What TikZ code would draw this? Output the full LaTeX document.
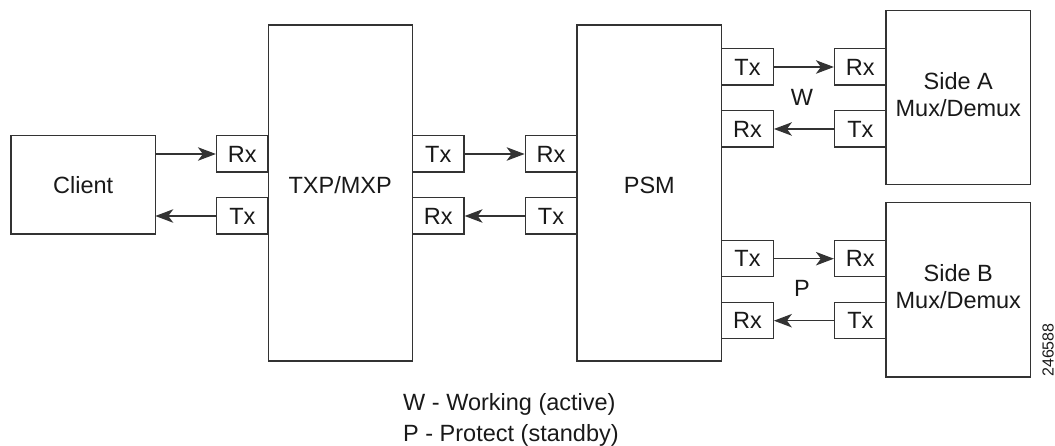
\documentclass[tikz,border=0pt]{standalone}
\usepackage{fontspec}
\setmainfont{Liberation Sans}
\usetikzlibrary{arrows.meta}
\begin{document}
\begin{tikzpicture}[x=1pt,y=-1pt,
  box/.style={draw=black!80,line width=1.3pt,fill=white},
  port/.style={draw=black!80,line width=1.3pt,fill=white,minimum width=51.5pt,minimum height=36.3pt},
  lbl/.style={font=\fontsize{23.5}{27}\selectfont,align=center,inner sep=0,text=black!90},
  conn/.style={draw=black!80,line width=1.3pt,-{Stealth[length=18pt,width=13.5pt,inset=5pt]}}]
\useasboundingbox (0,0) rectangle (1055,446);
% main boxes
\draw[box] (11,135.7) rectangle (155.3,234);
\node[lbl] (client) at (83.2,185) {Client};
\draw[box] (268.3,25) rectangle (412.2,361);
\node[lbl] (txp) at (340.2,185) {TXP/MXP};
\draw[box] (577,25) rectangle (721.7,361);
\node[lbl] (psm) at (649.3,185) {PSM};
\draw[box] (886,10.3) rectangle (1030.7,184.7);
\node[lbl] (sidea) at (958.3,95) {Side A\\Mux/Demux};
\draw[box] (886,202.3) rectangle (1030.7,377);
\node[lbl] (sideb) at (958.3,287) {Side B\\Mux/Demux};
% ports
\node[port,lbl] (txprx) at (242.3,154) {Rx};
\node[port,lbl] (txptx) at (242.3,216) {Tx};
\node[port,lbl] (txptx2) at (438.2,154) {Tx};
\node[port,lbl] (txprx2) at (438.2,216) {Rx};
\node[port,lbl] (psmrx) at (551,154) {Rx};
\node[port,lbl] (psmtx) at (551,216) {Tx};
\node[port,lbl] (p1) at (747.5,67) {Tx};
\node[port,lbl] (p2) at (747.5,129) {Rx};
\node[port,lbl] (p3) at (747.5,258.7) {Tx};
\node[port,lbl] (p4) at (747.5,320.7) {Rx};
\node[port,lbl] (a1) at (860.3,67) {Rx};
\node[port,lbl] (a2) at (860.3,129) {Tx};
\node[port,lbl] (b1) at (860.3,258.7) {Rx};
\node[port,lbl] (b2) at (860.3,320.7) {Tx};
% client connection points
\coordinate (cin) at (155.3,154);
\coordinate (cout) at (155.3,216);
% connectors
\draw[conn] (cin) -- (txprx.west);
\draw[conn] (txptx.west) -- (cout);
\draw[conn] (txptx2.east) -- (psmrx.west);
\draw[conn] (psmtx.west) -- (txprx2.east);
\draw[conn] (p1.east) -- (a1.west);
\draw[conn] (a2.west) -- (p2.east);
\draw[conn] (p3.east) -- (b1.west);
\draw[conn] (b2.west) -- (p4.east);
% labels
\node[lbl] (w) at (802,97) {W};
\node[lbl] (p) at (802,288.5) {P};
\node[lbl,anchor=base west] (leg1) at (403,410) {W - Working (active)};
\node[lbl,anchor=base west] (leg2) at (403,441.5) {P - Protect (standby)};
\node[font=\fontsize{16}{18}\selectfont,rotate=90,inner sep=0,text=black!90] (num) at (1048,350) {246588};
\end{tikzpicture}
\end{document}
